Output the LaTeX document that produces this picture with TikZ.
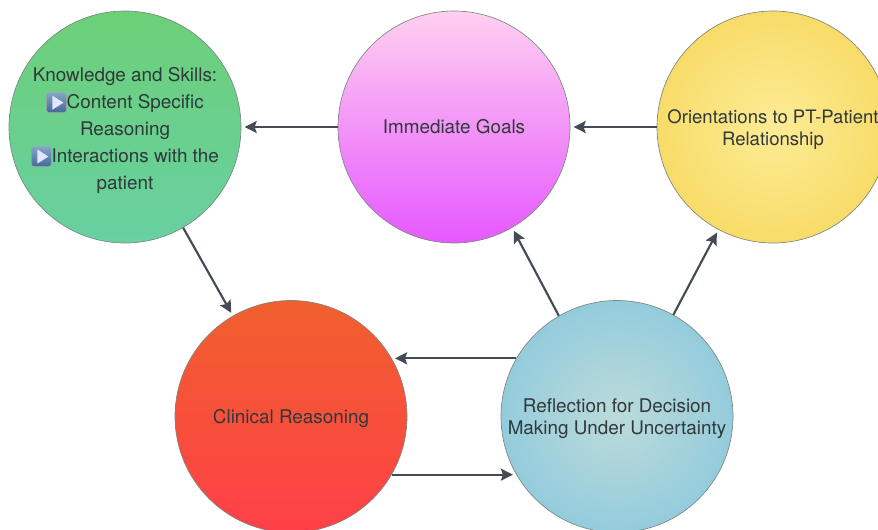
\documentclass[tikz,border=0pt]{standalone}
\usepackage{fontspec}
\setmainfont{TeX Gyre Heros}
\usetikzlibrary{arrows.meta}
\definecolor{inkc}{RGB}{48,56,58}
\definecolor{arrowc}{RGB}{68,74,86}
\definecolor{rimc}{RGB}{125,135,130}
\definecolor{icontop}{RGB}{130,165,200}
\definecolor{iconbot}{RGB}{66,106,152}
\newcommand{\playicon}{\tikz[baseline=-4.6pt,x=0.75pt,y=0.75pt]{
    \path[draw=black!35,top color=icontop,bottom color=iconbot,rounded corners=2pt] (-10,-10) rectangle (10,10);
    \fill[white!90!blue] (-4,-7) -- (7,0) -- (-4,7) -- cycle;}}
\newcommand{\topgap}{\rule{0pt}{14pt}}
\begin{document}
\begin{tikzpicture}[x=0.75pt, y=-0.75pt,
    disc/.style={circle, draw=rimc, line width=0.5pt, minimum size=174pt, inner sep=0pt, align=center, text=inkc, font=\fontsize{14.15}{16.5}\selectfont},
    link/.style={draw=arrowc, line width=1.6pt, -{Stealth[length=9pt,width=9pt,inset=1.5pt]}, shorten >=2.5pt}]
    \useasboundingbox (0,0) rectangle (878,529);
    \node[disc, top color={rgb,255:red,108;green,208;blue,120}, bottom color={rgb,255:red,104;green,208;blue,162}, font=\fontsize{14.15}{20.2}\selectfont] (knowledge) at (125,127) {\rule{0pt}{16.2pt}Knowledge and Skills:\\\playicon Content Specific\\Reasoning\\\playicon Interactions with the\\patient};
    \node[disc, top color={rgb,255:red,255;green,208;blue,240}, bottom color={rgb,255:red,230;green,88;blue,255}] (goals) at (454,127) {Immediate Goals};
    \node[disc, inner color={rgb,255:red,253;green,236;blue,150}, outer color={rgb,255:red,248;green,220;blue,105}, font=\fontsize{13.9}{16.5}\selectfont] (orient) at (773,127) {\topgap Orientations to PT-Patient\\Relationship};
    \node[disc, top color={rgb,255:red,240;green,96;blue,45}, bottom color={rgb,255:red,255;green,64;blue,72}] (clinical) at (291,416.5) {\topgap Clinical Reasoning};
    \node[disc, inner color={rgb,255:red,188;green,219;blue,218}, outer color={rgb,255:red,148;green,204;blue,220}] (reflect) at (617,416.5) {\topgap Reflection for Decision\\Making Under Uncertainty};

    \draw[link] (goals) -- (knowledge);
    \draw[link] (orient) -- (goals);
    \draw[link] (knowledge.-60) -- (clinical.120);
    \draw[link] (reflect.120) -- (goals.-60);
    \draw[link] (reflect.61) -- (orient.-118);
    \draw[link] (reflect.150) -- (clinical.30);
    \draw[link] (clinical.-30) -- (reflect.210);
\end{tikzpicture}
\end{document}
